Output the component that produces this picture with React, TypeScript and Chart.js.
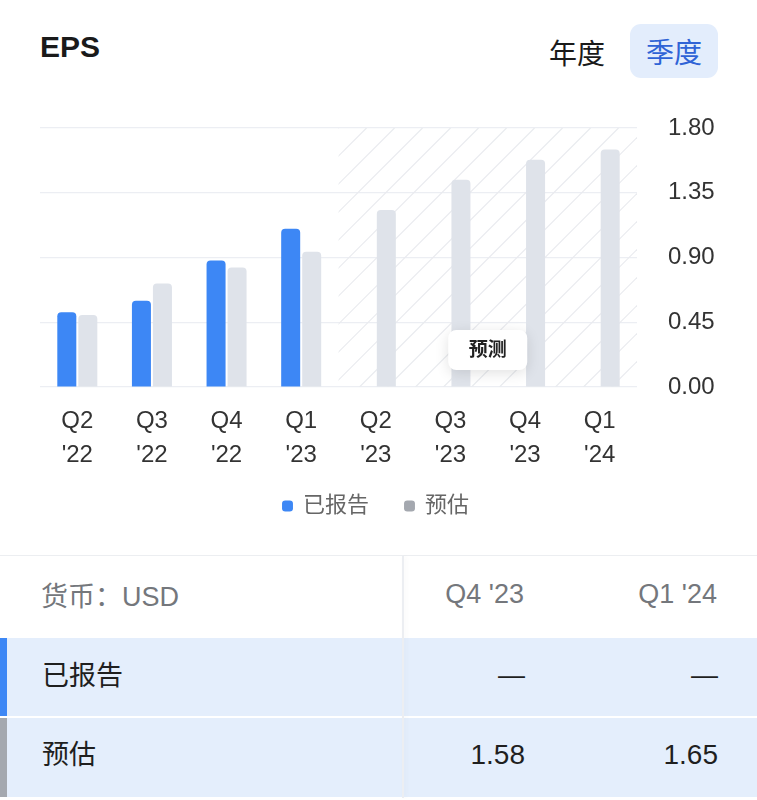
import React, { useEffect, useRef } from "react";
import { Chart, registerables } from "chart.js";

Chart.register(...registerables);

const quarterLabels = ["Q2", "Q3", "Q4", "Q1", "Q2", "Q3", "Q4", "Q1"];
const yearLabels = ["'22", "'22", "'22", "'23", "'23", "'23", "'23", "'24"];
const reportedEps = [0.52, 0.6, 0.88, 1.1, null, null, null, null];
const estimatedEps = [0.5, 0.72, 0.83, 0.94, 1.23, 1.44, 1.58, 1.65];
const yTicks = [0, 0.45, 0.9, 1.35, 1.8];
const forecastStartIndex = 4;
const forecastLabel = "预测";
const legendNames = ["已报告", "预估"];
const tableHeaders = ["Q4 '23", "Q1 '24"];
const tableReported = ["—", "—"];
const tableEstimated = ["1.58", "1.65"];

const BLUE = "#3d87f5";
const BAR_GRAY = "#dfe3ea";
const LEGEND_GRAY = "#a4a8af";
const FONT = '"Liberation Sans", "Noto Sans CJK SC", sans-serif';

const forecastPlugin = {
  id: "forecastZone",
  afterLayout(chart: any) {
    const lg = chart.legend;
    if (lg) {
      lg.left -= 22.5;
      lg.right -= 22.5;
      lg.top -= 30;
      lg.bottom -= 30;
    }
  },
  beforeDatasetsDraw(chart: any) {
    const { ctx, chartArea, scales } = chart;
    const x = scales.x;
    const x0 = (x.getPixelForValue(forecastStartIndex - 1) + x.getPixelForValue(forecastStartIndex)) / 2;
    const x1 = chartArea.right;
    const top = chartArea.top;
    const bottom = chartArea.bottom;
    const h = bottom - top;
    ctx.save();
    ctx.beginPath();
    ctx.rect(x0, top, x1 - x0, h);
    ctx.clip();
    ctx.strokeStyle = "#e9ebef";
    ctx.lineWidth = 1.2;
    for (let k = -h; k < x1 - x0 + h; k += 28) {
      ctx.beginPath();
      ctx.moveTo(x0 + k, bottom);
      ctx.lineTo(x0 + k + h, top);
      ctx.stroke();
    }
    ctx.restore();
  },
  afterDatasetsDraw(chart: any) {
    const { ctx, chartArea, scales } = chart;
    const x = scales.x;
    const x0 = (x.getPixelForValue(forecastStartIndex - 1) + x.getPixelForValue(forecastStartIndex)) / 2;
    const cx = (x0 + chartArea.right) / 2;
    const cy = chartArea.bottom - 37;
    const w = 79;
    const hh = 40;
    ctx.save();
    ctx.shadowColor = "rgba(0,0,0,0.12)";
    ctx.shadowBlur = 14;
    ctx.shadowOffsetY = 3;
    ctx.fillStyle = "#ffffff";
    ctx.beginPath();
    ctx.roundRect(cx - w / 2, cy - hh / 2, w, hh, 8);
    ctx.fill();
    ctx.restore();
    ctx.save();
    ctx.fillStyle = "#222";
    ctx.font = `bold 19px ${FONT}`;
    ctx.textAlign = "center";
    ctx.textBaseline = "middle";
    ctx.fillText(forecastLabel, cx, cy + 1);
    ctx.restore();
  },
};

function EpsChart() {
  const ref = useRef<HTMLCanvasElement>(null);
  useEffect(() => {
    const canvas = ref.current!;
    const chart = new Chart(canvas, {
      type: "bar",
      data: {
        labels: quarterLabels.map((q, i) => [q, yearLabels[i]]),
        datasets: [
          {
            label: legendNames[0],
            data: reportedEps,
            backgroundColor: BLUE,
            borderRadius: { topLeft: 4, topRight: 4, bottomLeft: 0, bottomRight: 0 },
            borderSkipped: false,
            categoryPercentage: 0.563,
            barPercentage: 0.905,
          },
          {
            label: legendNames[1],
            data: estimatedEps,
            backgroundColor: BAR_GRAY,
            borderRadius: { topLeft: 4, topRight: 4, bottomLeft: 0, bottomRight: 0 },
            borderSkipped: false,
            categoryPercentage: 0.563,
            barPercentage: 0.905,
          },
        ],
      },
      options: {
        responsive: false,
        animation: false,
        devicePixelRatio: 1,
        layout: { padding: { left: 40, top: 28, right: 0, bottom: 3 } },
        plugins: {
          tooltip: { enabled: false },
          legend: {
            position: "bottom",
            labels: {
              usePointStyle: true,
              pointStyle: "rectRounded",
              boxWidth: 9,
              boxHeight: 9,
              padding: 36,
              color: "#666",
              font: { family: FONT, size: 22 },
              generateLabels: () =>
                legendNames.map((n, i) => ({
                  text: n,
                  fillStyle: i === 0 ? BLUE : LEGEND_GRAY,
                  strokeStyle: i === 0 ? BLUE : LEGEND_GRAY,
                  lineWidth: 0,
                  pointStyle: "rectRounded",
                  datasetIndex: i,
                  hidden: false,
                  fontColor: "#666",
                })),
            },
          },
        },
        scales: {
          x: {
            grid: { display: false, drawTicks: false },
            border: { display: false },
            ticks: {
              color: "#333",
              padding: 17,
              maxRotation: 0,
              font: { family: FONT, size: 24, lineHeight: 34 / 24 },
            },
          },
          y: {
            position: "right",
            min: 0,
            max: 1.8,
            afterFit: (s: any) => {
              s.width = 120;
            },
            afterBuildTicks: (s: any) => {
              s.ticks = yTicks.map((v) => ({ value: v }));
            },
            grid: {
              color: "#eceef3",
              drawTicks: true,
              tickLength: 31,
              tickColor: "rgba(0,0,0,0)",
              lineWidth: 1.2,
            },
            border: { display: false },
            ticks: {
              color: "#333",
              padding: 0,
              font: { family: FONT, size: 24 },
              callback: (v: any) => Number(v).toFixed(2),
            },
          },
        },
      },
      plugins: [forecastPlugin],
    });
    return () => chart.destroy();
  }, []);
  return (
    <canvas
      ref={ref}
      width={757}
      height={460}
      style={{ position: "absolute", left: 0, top: 100, width: 757, height: 460 }}
    />
  );
}

export default function App() {
  useEffect(() => {
    document.body.style.margin = "0";
  }, []);
  const cell: React.CSSProperties = {
    position: "absolute",
    fontSize: 27,
    lineHeight: "30px",
    fontFamily: FONT,
  };
  return (
    <div
      style={{
        position: "relative",
        width: 757,
        height: 800,
        background: "#fff",
        overflow: "hidden",
        fontFamily: FONT,
      }}
    >
      <div style={{ position: "absolute", left: 40, top: 30, fontSize: 30, fontWeight: 700, color: "#1a1a1a" }}>EPS</div>
      <div style={{ position: "absolute", left: 549, top: 32, fontSize: 28, color: "#1a1a1a" }}>年度</div>
      <div
        style={{
          position: "absolute",
          left: 630,
          top: 24,
          width: 88,
          height: 54,
          borderRadius: 11,
          background: "#e3edfc",
          color: "#2f63d6",
          fontSize: 28,
          display: "flex",
          alignItems: "center",
          justifyContent: "center",
        }}
      >
        季度
      </div>
      <EpsChart />
      {/* table */}
      <div style={{ position: "absolute", left: 0, top: 555, width: 757, height: 1, background: "#eceef1" }} />
      <div style={{ ...cell, left: 41, top: 582, color: "#74777c" }}>货币：USD</div>
      {tableHeaders.map((h, i) => (
        <div key={h} style={{ ...cell, right: i === 0 ? 757 - 524 : 757 - 717, top: 579, color: "#74777c", textAlign: "right" }}>
          {h}
        </div>
      ))}
      <div style={{ position: "absolute", left: 0, top: 638, width: 757, height: 78, background: "#e4eefc" }} />
      <div style={{ position: "absolute", left: 0, top: 638, width: 7, height: 78, background: BLUE }} />
      <div style={{ position: "absolute", left: 0, top: 718, width: 757, height: 79, background: "#e4eefc" }} />
      <div style={{ position: "absolute", left: 0, top: 718, width: 7, height: 79, background: LEGEND_GRAY }} />
      <div
        style={{
          position: "absolute",
          left: 402,
          top: 556,
          width: 2,
          height: 242,
          background: "#eceef2",
          boxShadow: "2px 0 4px rgba(0,0,0,0.04)",
        }}
      />
      <div style={{ ...cell, left: 42, top: 661, color: "#1f1f1f" }}>{legendNames[0]}</div>
      <div style={{ ...cell, left: 42, top: 740, color: "#1f1f1f" }}>{legendNames[1]}</div>
      {tableReported.map((v, i) => (
        <div key={"r" + i} style={{ ...cell, right: i === 0 ? 757 - 525 : 757 - 718, top: 660, color: "#1f1f1f", textAlign: "right" }}>
          {v}
        </div>
      ))}
      {tableEstimated.map((v, i) => (
        <div key={"e" + i} style={{ ...cell, fontSize: 28, right: i === 0 ? 757 - 525 : 757 - 718, top: 740, color: "#1f1f1f", textAlign: "right" }}>
          {v}
        </div>
      ))}
    </div>
  );
}
